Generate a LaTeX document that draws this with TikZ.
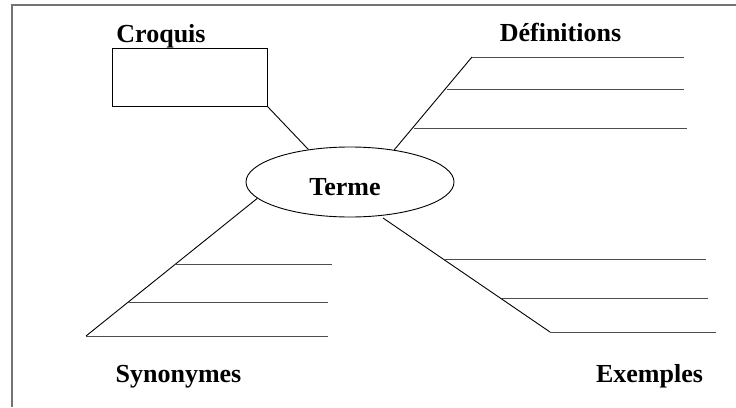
\documentclass[tikz,border=0pt]{standalone}
\usepackage{fontspec}
\setmainfont{Liberation Serif}
\usetikzlibrary{shapes.geometric}
\begin{document}
\begin{tikzpicture}[x=1pt,y=-1pt,
  lbl/.style={font=\fontsize{26}{30}\selectfont\bfseries, anchor=base, inner sep=0pt},
  diag/.style={line width=0.9pt, black},
  rule/.style={line width=1pt, black!70},
  frameline/.style={line width=1.6pt, black!55}]
\useasboundingbox (0,0) rectangle (736,407);
% frame (top and left edges visible)
\coordinate (fbl) at (12,407);
\coordinate (ftl) at (12,5);
\coordinate (ftr) at (736,5);
\draw[frameline] (fbl) -- (ftl) -- (ftr);
% central term
\node[ellipse, draw, line width=0.9pt, minimum width=208pt, minimum height=70pt, inner sep=0pt] (terme) at (350,182) {};
\node[lbl] (termetxt) at (345,195) {Terme};
% Croquis
\node[lbl] (croquistxt) at (161,42) {Croquis};
\node[draw, line width=0.9pt, minimum width=155pt, minimum height=58pt, inner sep=0pt] (croquis) at (189.5,77) {};
\draw[diag] (croquis.south east) -- (terme.142);
% Definitions
\node[lbl] (deftxt) at (560.5,41) {Définitions};
\coordinate (d1) at (472,57);
\coordinate (d2) at (447,89);
\coordinate (d3) at (414,128);
\coordinate (d1e) at (684,57);
\coordinate (d2e) at (684,89);
\coordinate (d3e) at (687,128);
\draw[diag] (terme.36) -- (d1);
\draw[rule] (d1) -- (d1e);
\draw[rule] (d2) -- (d2e);
\draw[rule] (d3) -- (d3e);
% Synonymes
\node[lbl] (syntxt) at (178.5,382) {Synonymes};
\coordinate (s1) at (176,264);
\coordinate (s2) at (128,302);
\coordinate (s3) at (86,336);
\coordinate (s1e) at (332,264);
\coordinate (s2e) at (328,302);
\coordinate (s3e) at (328,336);
\draw[diag] (terme.190) -- (s3);
\draw[rule] (s1) -- (s1e);
\draw[rule] (s2) -- (s2e);
\draw[rule] (s3) -- (s3e);
% Exemples
\node[lbl] (extxt) at (649.5,382) {Exemples};
\coordinate (e0) at (383,218);
\coordinate (e1) at (444,259);
\coordinate (e2) at (502,298);
\coordinate (e3) at (550,332);
\coordinate (e1e) at (706,259);
\coordinate (e2e) at (708,298);
\coordinate (e3e) at (716,332);
\draw[diag] (e0) -- (e3);
\draw[rule] (e1) -- (e1e);
\draw[rule] (e2) -- (e2e);
\draw[rule] (e3) -- (e3e);
\end{tikzpicture}
\end{document}
